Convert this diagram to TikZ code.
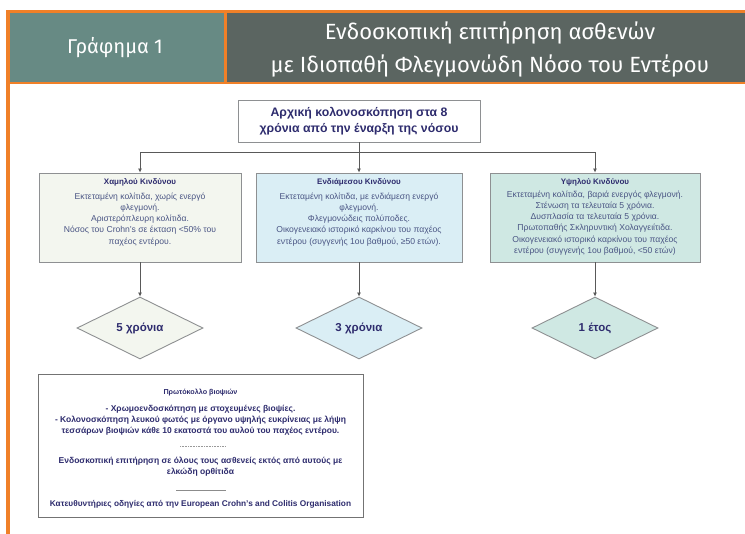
\documentclass[tikz,border=0pt]{standalone}
\usepackage{fontspec}
\setmainfont{Liberation Sans}
\newfontfamily\headfont{Fira Sans}
\usetikzlibrary{shapes.geometric,arrows.meta}
\definecolor{orng}{HTML}{F08028}
\definecolor{tealhd}{HTML}{678A84}
\definecolor{darkhd}{HTML}{5B6561}
\definecolor{navy}{HTML}{2E2C6E}
\definecolor{bodytxt}{HTML}{4A5584}
\definecolor{bordr}{HTML}{8E9092}
\definecolor{fillA}{HTML}{F3F6EF}
\definecolor{fillB}{HTML}{DAEEF5}
\definecolor{fillC}{HTML}{CFE8E3}
\begin{document}
\begin{tikzpicture}[x=1pt,y=-1pt,
  riskbox/.style={draw=bordr,line width=0.9pt,minimum height=89pt,inner sep=0pt},
  boxtitle/.style={font=\fontsize{8}{9}\selectfont\bfseries,text=navy,inner sep=0pt},
  boxbody/.style={font=\fontsize{8.6}{11.2}\selectfont,text=bodytxt,align=center,inner sep=0pt},
  decide/.style={diamond,draw=bordr,line width=0.9pt,minimum width=126pt,minimum height=62pt,inner sep=0pt,font=\fontsize{11.5}{13}\selectfont\bfseries,text=navy},
  conn/.style={draw=black!65,line width=0.7pt},
  arr/.style={conn,-{Latex[length=4pt,width=4pt]}},
  bottxt/.style={font=\fontsize{8.5}{11}\selectfont\bfseries,text=navy,align=center,inner sep=0pt}]
\useasboundingbox (0,0) rectangle (745,534);
\fill[white] (0,0) rectangle (745,534);
% header
\fill[orng] (6,10) rectangle (745,84);
\fill[orng] (6,10) rectangle (10,534);
\fill[tealhd] (10,13) rectangle (224,82);
\fill[darkhd] (227,13) rectangle (745,82);
\node[text=white,font=\headfont\fontsize{20}{24}\selectfont] (hl) at (115,48) {Γράφημα 1};
\node[text=white,align=center,font=\headfont\fontsize{22}{33}\selectfont] (hr) at (490,50) {Ενδοσκοπική επιτήρηση ασθενών\\με Ιδιοπαθή Φλεγμονώδη Νόσο του Εντέρου};
% top box
\node[draw=bordr,line width=0.9pt,minimum width=242pt,minimum height=42pt,align=center,
  font=\fontsize{12.3}{15.5}\selectfont\bfseries,text=navy] (top) at (359,121)
  {Αρχική κολονοσκόπηση στα 8\\χρόνια από την έναρξη της νόσου};
\coordinate (j) at (359,152);
% risk boxes
\node[riskbox,fill=fillA,minimum width=202pt] (b1) at (140,217.5) {};
\node[riskbox,fill=fillB,minimum width=206pt] (b2) at (359,217.5) {};
\node[riskbox,fill=fillC,minimum width=210pt] (b3) at (595,217.5) {};
\node[boxtitle,anchor=north] (t1) at ([yshift=-6]b1.north) {Χαμηλού Κινδύνου};
\node[boxtitle,anchor=north] (t2) at ([yshift=-6]b2.north) {Ενδιάμεσου Κινδύνου};
\node[boxtitle,anchor=north] (t3) at ([yshift=-6]b3.north) {Υψηλού Κινδύνου};
\node[boxbody,anchor=north] (d1) at ([yshift=-20]b1.north) {Εκτεταμένη κολίτιδα, χωρίς ενεργό\\φλεγμονή.\\Αριστερόπλευρη κολίτιδα.\\Νόσος του Crohn's σε έκταση <50\% του\\παχέος εντέρου.};
\node[boxbody,anchor=north] (d2) at ([yshift=-20]b2.north) {Εκτεταμένη κολίτιδα, με ενδιάμεση ενεργό\\φλεγμονή.\\Φλεγμονώδεις πολύποδες.\\Οικογενειακό ιστορικό καρκίνου του παχέος\\εντέρου (συγγενής 1ου βαθμού, ≥50 ετών).};
\node[boxbody,anchor=north] (d3) at ([yshift=-18]b3.north) {Εκτεταμένη κολίτιδα, βαριά ενεργός φλεγμονή.\\Στένωση τα τελευταία 5 χρόνια.\\Δυσπλασία τα τελευταία 5 χρόνια.\\Πρωτοπαθής Σκληρυντική Χολαγγειίτιδα.\\Οικογενειακό ιστορικό καρκίνου του παχέος\\εντέρου (συγγενής 1ου βαθμού, <50 ετών)};
% diamonds
\node[decide,fill=fillA] (p1) at (140,328) {5 χρόνια};
\node[decide,fill=fillB] (p2) at (359,328) {3 χρόνια};
\node[decide,fill=fillC] (p3) at (595,328) {1 έτος};
% connectors
\draw[conn] (top.south) -- (j);
\draw[arr] (j) -| (b1.north);
\draw[arr] (j) -- (b2.north);
\draw[arr] (j) -| (b3.north);
\draw[arr] (b1.south) -- (p1.north);
\draw[arr] (b2.south) -- (p2.north);
\draw[arr] (b3.south) -- (p3.north);
% bottom box
\node[draw=black!55,line width=1pt,fill=white,minimum width=325pt,minimum height=143pt] (bb) at (200.5,446.5) {};
\node[bottxt,anchor=north,font=\fontsize{7.2}{9}\selectfont\bfseries] (q1) at ([yshift=-14]bb.north) {Πρωτόκολλο βιοψιών};
\node[bottxt,anchor=north] (q2) at ([yshift=-31]bb.north) {- Χρωμοενδοσκόπηση με στοχευμένες βιοψίες.\\- Κολονοσκόπηση λευκού φωτός με όργανο υψηλής ευκρίνειας με λήψη\\τεσσάρων βιοψιών κάθε 10 εκατοστά του αυλού του παχέος εντέρου.};
\coordinate (s1a) at (180,446);
\coordinate (s1b) at (225,446);
\draw[black!40,dash pattern=on 1pt off 0.6pt,line width=0.5pt] (s1a) -- (s1b);
\node[bottxt,anchor=north] (q3) at ([yshift=-82]bb.north) {Ενδοσκοπική επιτήρηση σε όλους τους ασθενείς εκτός από αυτούς με\\ελκώδη ορθίτιδα};
\coordinate (s2a) at (176,490);
\coordinate (s2b) at (226,490);
\draw[black!45,line width=0.6pt] (s2a) -- (s2b);
\node[bottxt,anchor=north,font=\fontsize{8.3}{9}\selectfont\bfseries] (q4) at ([yshift=-126]bb.north) {Κατευθυντήριες οδηγίες από την European Crohn's and Colitis Organisation};
\end{tikzpicture}
\end{document}
